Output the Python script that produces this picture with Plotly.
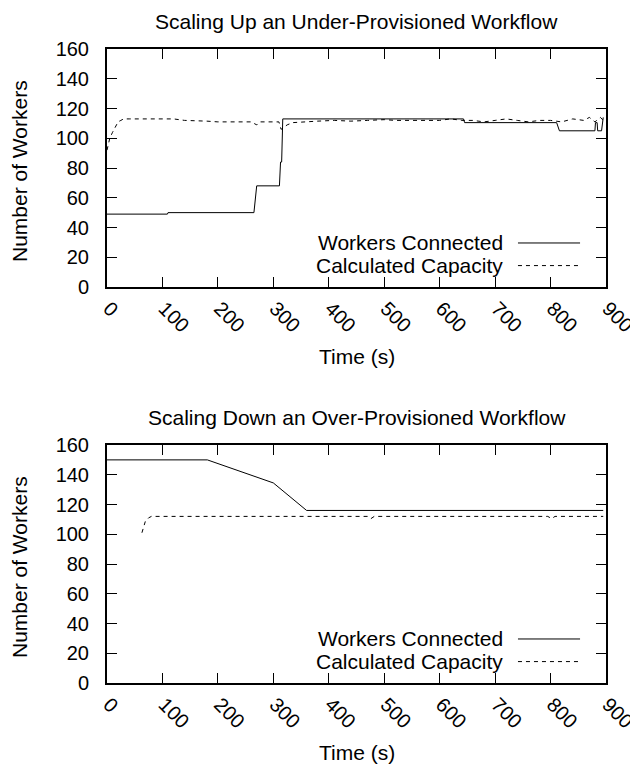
import plotly.graph_objects as go

# ---------------- data ----------------
up_workers_t = [0, 109, 110, 265, 270, 311, 313, 315, 317, 643, 645, 811, 816, 880, 881, 884, 885, 889, 892, 895]
up_workers_v = [49, 49, 50, 50, 68, 68, 84, 84, 113, 113, 110.5, 110.5, 105, 105, 110.5, 110.5, 105, 105, 105, 114]

up_capacity_t = [0, 5, 10, 15, 20, 25, 30, 40, 60, 80, 100, 120, 140, 160, 180, 200, 220, 240, 260, 270,
                 275, 290, 310, 314, 318, 325, 335, 350, 380, 410, 440, 470, 500, 520, 540, 560, 580, 600,
                 620, 640, 660, 680, 700, 720, 740, 760, 780, 800, 820, 840, 860, 870, 880, 890, 895]
up_capacity_v = [92, 100, 104, 108, 111, 112, 113, 113, 113, 113, 112.5, 113, 112, 112, 111.5, 111, 111, 111, 111, 109,
                 111, 111, 111, 106, 107, 109, 110.5, 111, 111.5, 112, 111.5, 112, 112.5, 112, 112, 112, 112.5, 112,
                 113, 112, 112, 111, 112, 113, 112, 111, 112, 112, 111, 113, 112, 114, 111, 114, 112]

down_workers_t = [0, 181, 300, 360, 895]
down_workers_v = [150, 150, 134.5, 116, 116]

down_capacity_t = [63, 66, 69, 75, 80, 100, 200, 300, 400, 470, 476, 482, 600, 700, 795, 802, 808, 895]
down_capacity_v = [101, 105, 108.5, 111, 112, 112, 112, 112, 112, 112, 110.5, 112, 112, 112, 112, 110.5, 112, 112]

titles = ["Scaling Up an Under-Provisioned Workflow", "Scaling Down an Over-Provisioned Workflow"]
series_names = ["Workers Connected", "Calculated Capacity"]
x_title = "Time (s)"
y_title = "Number of Workers"
x_ticks = list(range(0, 901, 100))
y_ticks = list(range(0, 161, 20))

# ---------------- figure ----------------
FONT = "Liberation Sans, Arial, Helvetica, sans-serif"
# the page body has an 8px default margin, so the figure is drawn 8px smaller
W, H = 630, 758
fig = go.Figure()

panels = [
    (up_workers_t, up_workers_v, up_capacity_t, up_capacity_v, "x", "y"),
    (down_workers_t, down_workers_v, down_capacity_t, down_capacity_v, "x2", "y2"),
]

for i, (wt, wv, ct, cv, xa, ya) in enumerate(panels):
    fig.add_trace(go.Scatter(x=wt, y=wv, mode="lines", name=series_names[0],
                             line=dict(color="black", width=1), xaxis=xa, yaxis=ya,
                             showlegend=False))
    fig.add_trace(go.Scatter(x=ct, y=cv, mode="lines", name=series_names[1],
                             line=dict(color="black", width=1, dash="4px,4px"), xaxis=xa, yaxis=ya,
                             showlegend=False))

axis_common = dict(
    showline=True, linecolor="black", linewidth=2, mirror="allticks",
    ticks="inside", ticklen=10, tickwidth=1, tickcolor="black",
    showgrid=False, zeroline=False,
    tickfont=dict(family=FONT, size=20, color="black"),
    automargin=False,
)
x_extra = dict(range=[0, 900], tickvals=x_ticks, tickangle=45, ticklabelstandoff=0, ticklabelshift=2,
               ticklabeloverflow="allow")
y_extra = dict(range=[0, 160], tickvals=y_ticks, ticklabelstandoff=12)

ML, MR, MT, MB = 99, 32, 41, 83
PH = H - MT - MB  # 634
top_dom = [(PH - 238) / PH, 1.0]
bot_dom = [0.0, 238 / PH]

fig.update_layout(
    width=W, height=H,
    template="none",
    paper_bgcolor="white", plot_bgcolor="white",
    margin=dict(l=ML, r=MR, t=MT, b=MB, pad=0),
    font=dict(family=FONT, size=20, color="black"),
    showlegend=False,
    xaxis=dict(anchor="y", **x_extra, **axis_common),
    yaxis=dict(domain=top_dom, anchor="x", **y_extra, **axis_common),
    xaxis2=dict(anchor="y2", **x_extra, **axis_common),
    yaxis2=dict(domain=bot_dom, anchor="x2", **y_extra, **axis_common),
)

annotations = []
shapes = []
for i, (xa, ya) in enumerate([("x", "y"), ("x2", "y2")]):
    xd = xa + " domain"
    yd = ya + " domain"
    # title
    annotations.append(dict(text=titles[i], xref=xd, yref=yd, x=0.5, y=1, yanchor="middle",
                            yshift=28, showarrow=False, font=dict(family=FONT, size=21, color="black")))
    # x axis title
    annotations.append(dict(text=x_title, xref=xd, yref=yd, x=0.5, y=0, yanchor="middle",
                            yshift=-69, showarrow=False, font=dict(family=FONT, size=21, color="black")))
    # y axis title
    annotations.append(dict(text=y_title, xref=xd, yref=yd, x=0, y=0.5, xanchor="center", yanchor="middle",
                            xshift=-88, yshift=-3, textangle=-90, showarrow=False,
                            font=dict(family=FONT, size=21, color="black")))
    # manual legend (key on the right side, gnuplot style)
    for j, (name, ly, dash) in enumerate([(series_names[0], 0.185, "solid"),
                                          (series_names[1], 0.090, "4px,4px")]):
        annotations.append(dict(text=name, xref=xd, yref=yd, x=1, y=ly, xanchor="right", yanchor="middle",
                                xshift=-101, showarrow=False, font=dict(family=FONT, size=21, color="black")))
        shapes.append(dict(type="line", xref=xd, yref=yd, x0=0.8236, x1=0.948, y0=ly, y1=ly,
                           line=dict(color="black", width=1, dash=dash)))

fig.update_layout(annotations=annotations, shapes=shapes)

fig.write_html("out.html")
